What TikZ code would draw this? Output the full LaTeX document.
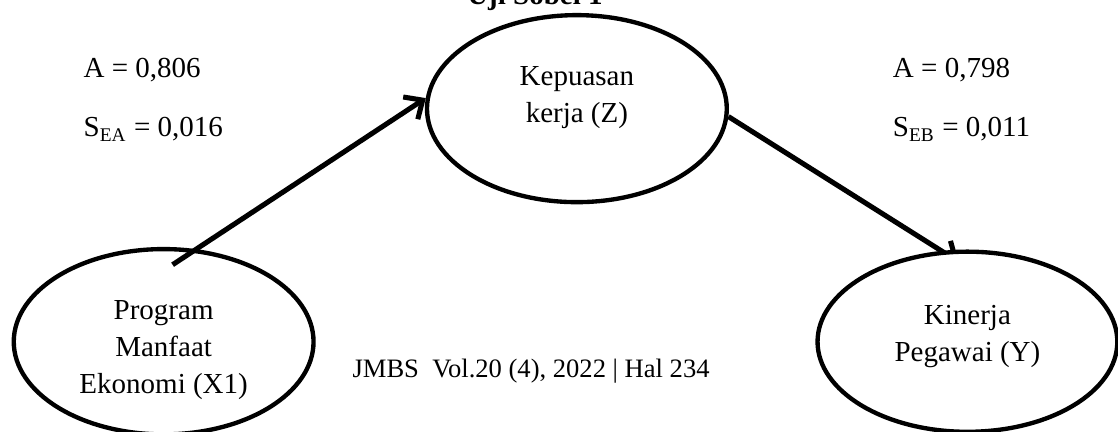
\documentclass[tikz,border=0pt]{standalone}
\usepackage{fontspec}
\setmainfont{Liberation Serif}
\usetikzlibrary{positioning,shapes.geometric,arrows.meta,backgrounds}

\begin{document}
\begin{tikzpicture}[
	var/.style={ellipse, draw, line width=1.8pt, minimum width=4.36cm, minimum height=2.62cm, align=center, font=\fontsize{12}{15.3}\selectfont},
	lbl/.style={anchor=base west, inner sep=0pt, font=\fontsize{12}{14}\selectfont},
	link/.style={line width=2.1pt, -{Straight Barb[length=6pt,width=11pt]}}
	]
	\useasboundingbox (0,0) rectangle (16.26,6.28);
	\node (title) [anchor=base, inner sep=0pt, font=\bfseries\fontsize{12}{14}\selectfont] at (7.78,6.21) {Uji Sobel 1};
	
	\node (X1) [var, text height=45pt] at (2.38,1.31) {Program\\Manfaat\\Ekonomi (X1)};
	\node (Z) [var, fill=white, minimum height=2.72cm, text depth=12pt] at (8.39,4.70) {Kepuasan\\kerja (Z)};
	\node (Y) [var, fill=white, text depth=7pt] at (14.07,1.31) {Kinerja\\Pegawai (Y)};
	
	\node (a1) [lbl] at (1.21,5.15) {A = 0,806};
	\node (se1) [lbl] at (1.21,4.29) {S\textsubscript{EA} = 0,016};
	\node (a2) [lbl] at (12.98,5.15) {A = 0,798};
	\node (se2) [lbl] at (12.98,4.29) {S\textsubscript{EB} = 0,011};
	\node (jmbs) [lbl, font=\fontsize{11}{13}\selectfont] at (5.12,0.785) {JMBS\ \ Vol.20 (4), 2022 | Hal 234};
	
	\coordinate (s1) at ([shift={(0.13,1.12)}]X1.center);
	\begin{scope}[on background layer]
	\draw[link] (s1) -- (Z.176);
	\draw[link, shorten >=-0.3cm] (Z.-3) -- (Y.106);
	\end{scope}
\end{tikzpicture}
\end{document}
